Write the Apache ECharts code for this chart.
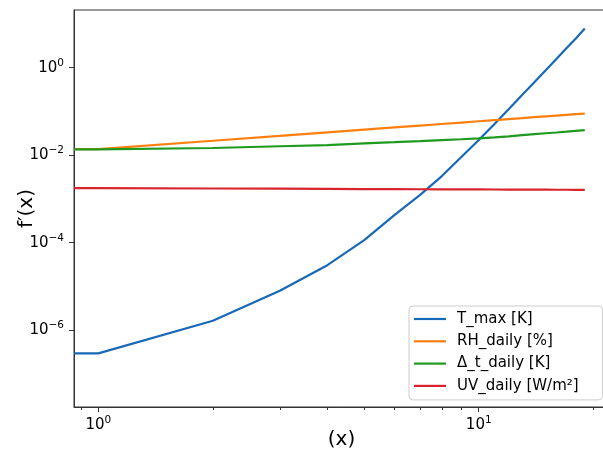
<!DOCTYPE html>
<html>
<head>
<meta charset="utf-8">
<script src="https://cdn.jsdelivr.net/npm/echarts@6/dist/echarts.min.js"></script>
<style>
html,body{margin:0;padding:0;background:#fff;}
#chart{width:603px;height:455px;}
</style>
</head>
<body>
<div id="chart"></div>
<script>
// ---- data ----
const xs = [0, 1, 2, 3, 4, 5, 6, 7, 8, 9, 10, 11, 12, 13, 14, 15, 16, 17, 18, 19];
const seriesNames = ['T_max [K]', 'RH_daily [%]', 'Δ_t_daily [K]', 'UV_daily [W/m²]'];
const tMax = [4.5e-8, 2.93e-7, 1.63e-6, 7.9e-6, 3.05e-5, 1.14e-4, 4.26e-4, 1.22e-3, 3.33e-3, 9.06e-3,
              2.22e-2, 5.15e-2, 0.1135, 0.237, 0.463, 0.873, 1.58, 2.78, 4.66, 7.9];
const rhDaily = [0.0138, 0.0138, 0.0214, 0.0277, 0.0333, 0.0383, 0.0431, 0.0475, 0.0517, 0.0557,
                 0.0596, 0.0633, 0.0669, 0.0703, 0.0738, 0.0771, 0.0803, 0.0834, 0.0865, 0.0895];
const dtDaily = [0.0136, 0.0136, 0.0146, 0.0160, 0.0170, 0.0186, 0.0198, 0.0210, 0.0222, 0.0231,
                 0.0241, 0.0255, 0.0270, 0.0286, 0.0302, 0.0317, 0.0330, 0.0344, 0.0360, 0.0375];
const uvDaily = [0.00177, 0.00177, 0.00173, 0.00171, 0.00169, 0.00168, 0.00167, 0.00166, 0.001655, 0.00165,
                 0.001647, 0.00164, 0.001635, 0.00163, 0.001627, 0.001623, 0.00162, 0.001617, 0.001614, 0.00161];
const xMajorTicks = [1, 10];
const xMinorTicks = [0.9, 2, 3, 4, 5, 6, 7, 8, 9, 20];
const yMajorTicks = [1e-6, 1e-4, 1e-2, 1];
const xRange = [0.863, 22.0];
const yRange = [1.74e-8, 20.9];
const xTitle = '(x)';
const yTitle = 'f\u2032(x)';
const colors = ['#1868b8', '#ff7f0e', '#1f9a1f', '#d8242c'];

// ---- build ----
// Non-positive x cannot sit on a log axis: like matplotlib's clipping, such a point
// is drawn at the left edge of the axis, level with the first positive point.
function buildPoints(ys) {
  const pts = [];
  const firstPos = xs.findIndex(v => v > 0);
  for (let i = 0; i < xs.length; i++) {
    if (xs[i] > 0) pts.push([xs[i], ys[i]]);
    else pts.push([xRange[0], ys[firstPos]]);
  }
  return pts;
}
const allY = [tMax, rhDaily, dtDaily, uvDaily];

function pow10Label(v) {
  const e = Math.round(Math.log10(v));
  const s = (e < 0 ? '\u2212' + Math.abs(e) : '' + e);
  return '10{sup|' + s + '}';
}
const FONT = 'DejaVu Sans';
const labelRich = {
  sup: { fontSize: 10.5, fontFamily: FONT, color: '#000', verticalAlign: 'top', lineHeight: 11 }
};

const chart = echarts.init(document.getElementById('chart'), null, { renderer: 'canvas' });
chart.setOption({
  animation: false,
  backgroundColor: '#fff',
  grid: {
    left: 74, top: 10, right: -6, bottom: 48,
    containLabel: false, outerBoundsMode: 'none',
    show: true, borderColor: '#333', borderWidth: 1, backgroundColor: 'transparent'
  },
  xAxis: [{
    type: 'log', logBase: 10, min: xRange[0], max: xRange[1], position: 'bottom',
    name: xTitle, nameLocation: 'middle', nameGap: 23, nameMoveOverlap: false,
    nameTextStyle: { fontFamily: FONT, fontSize: 20, color: '#000', verticalAlign: 'top' },
    axisLine: { show: true, lineStyle: { color: '#333', width: 1 } },
    axisTick: { show: true, inside: false, length: 5, customValues: xMajorTicks, lineStyle: { color: '#333', width: 1 } },
    axisLabel: { show: true, customValues: xMajorTicks, margin: 8, formatter: pow10Label,
      fontFamily: FONT, fontSize: 15, color: '#000', lineHeight: 20, rich: labelRich },
    splitLine: { show: false }, minorTick: { show: false }
  }, {
    type: 'log', logBase: 10, min: xRange[0], max: xRange[1], position: 'bottom', offset: 0,
    axisLine: { show: false },
    axisTick: { show: true, inside: false, length: 3, customValues: xMinorTicks, lineStyle: { color: '#333', width: 1 } },
    axisLabel: { show: false },
    splitLine: { show: false }
  }],
  yAxis: {
    type: 'log', logBase: 10, min: yRange[0], max: yRange[1],
    name: yTitle, nameLocation: 'middle', nameGap: 37, nameMoveOverlap: false,
    nameTextStyle: { fontFamily: FONT, fontSize: 20, color: '#000' },
    axisLine: { show: true, lineStyle: { color: '#333', width: 1 } },
    axisTick: { show: true, inside: false, length: 5, customValues: yMajorTicks, lineStyle: { color: '#333', width: 1 } },
    axisLabel: { show: true, customValues: yMajorTicks, margin: 10, formatter: pow10Label,
      fontFamily: FONT, fontSize: 15, color: '#000', lineHeight: 20, rich: labelRich },
    splitLine: { show: false }, minorTick: { show: false }
  },
  legend: {
    orient: 'vertical', left: 409, top: 306,
    padding: [5, 24, 6, 5],
    itemWidth: 32, itemHeight: 16, itemGap: 6.3,
    icon: 'path://M0,0H32V2.2H0Z',
    backgroundColor: '#fff', borderColor: '#ccc', borderWidth: 1, borderRadius: 4,
    textStyle: { fontFamily: FONT, fontSize: 15, color: '#000', lineHeight: 16, padding: [0, 0, 0, 6] },
    data: seriesNames
  },
  series: seriesNames.map((n, i) => ({
    name: n, type: 'line', xAxisIndex: 0, yAxisIndex: 0,
    data: buildPoints(allY[i]),
    symbol: 'none', showSymbol: false, smooth: false, clip: true,
    color: colors[i],
    lineStyle: { color: colors[i], width: 2.2 },
    emphasis: { disabled: true }
  }))
});
</script>
</body>
</html>
